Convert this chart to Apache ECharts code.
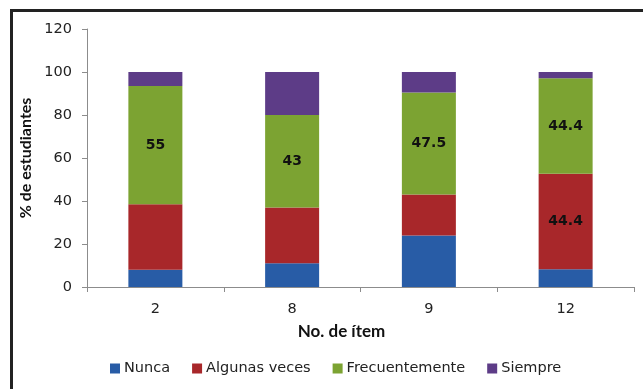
<!DOCTYPE html>
<html>
<head>
<meta charset="utf-8">
<script src="https://cdn.jsdelivr.net/npm/echarts@6/dist/echarts.min.js"></script>
<style>
  html, body { margin: 0; padding: 0; background: #ffffff; }
  #chart { width: 643px; height: 389px; }
</style>
</head>
<body>
<div id="chart"></div>
<script>
// Items and answer shares (% of students) per frequency category
const items = ['2', '8', '9', '12'];
const nunca = [8, 11, 24, 8.3];
const algunasVeces = [30.5, 26, 19, 44.4];
const frecuentemente = [55, 43, 47.5, 44.4];
const siempre = [6.5, 20, 9.5, 2.9];
const yTicks = [0, 20, 40, 60, 80, 100, 120];

// Segments whose value is printed inside the bar: [series name, item index]
const printedValues = [
  ['Frecuentemente', 0], ['Frecuentemente', 1], ['Frecuentemente', 2], ['Frecuentemente', 3],
  ['Algunas veces', 3]
];

const font = '"DejaVu Sans", "Open Sans", sans-serif';
const nameFont = 'Lato, "Open Sans", sans-serif';
const colors = {
  'Nunca': '#285ca6',
  'Algunas veces': '#a8272a',
  'Frecuentemente': '#7ca332',
  'Siempre': '#5d3c87'
};

function makeSeries(name, values) {
  return {
    name: name,
    type: 'bar',
    stack: 'total',
    barWidth: 54,
    itemStyle: { color: colors[name] },
    data: values.map(function (v, i) {
      const shown = printedValues.some(function (p) { return p[0] === name && p[1] === i; });
      return {
        value: v,
        label: {
          show: shown,
          position: 'inside',
          formatter: String(v),
          color: '#111',
          fontWeight: 'bold',
          fontSize: 14,
          fontFamily: font
        }
      };
    })
  };
}

const chart = echarts.init(document.getElementById('chart'), null, { renderer: 'canvas' });
chart.setOption({
  animation: false,
  backgroundColor: '#ffffff',
  textStyle: { fontFamily: font },
  graphic: [{
    type: 'rect',
    left: 9, top: 8,
    shape: { x: 0, y: 0, width: 700, height: 500 },
    style: { fill: 'none', stroke: '#222', lineWidth: 3 },
    silent: true
  }],
  grid: { left: 87, right: 9, top: 29, bottom: 102, containLabel: false },
  legend: {
    data: ['Nunca', 'Algunas veces', 'Frecuentemente', 'Siempre'],
    left: 110, top: 361,
    padding: 0,
    icon: 'rect',
    itemWidth: 10, itemHeight: 10, itemGap: 22,
    textStyle: { fontSize: 14.5, color: '#222', fontFamily: font, padding: [0, 0, 0, -1] }
  },
  xAxis: {
    type: 'category',
    data: items,
    name: 'No. de ítem',
    nameLocation: 'middle',
    nameGap: 36,
    nameTextStyle: { fontWeight: 'bold', fontSize: 17, color: '#111', padding: [0, 38, 0, 0], fontFamily: nameFont },
    axisLine: { lineStyle: { color: '#8c8c8c', width: 1 } },
    axisTick: { show: true, length: 5, lineStyle: { color: '#8c8c8c' } },
    axisLabel: { fontSize: 14.5, color: '#222', margin: 15, fontFamily: font }
  },
  yAxis: {
    type: 'value',
    min: yTicks[0],
    max: yTicks[yTicks.length - 1],
    interval: yTicks[1] - yTicks[0],
    name: '% de estudiantes',
    nameLocation: 'middle',
    nameRotate: 90,
    nameGap: 45,
    nameTextStyle: { fontWeight: 'bold', fontSize: 16, color: '#111', fontFamily: nameFont },
    axisLine: { show: true, lineStyle: { color: '#8c8c8c', width: 1 } },
    axisTick: { show: true, length: 5, lineStyle: { color: '#8c8c8c' } },
    axisLabel: { fontSize: 14.5, color: '#222', margin: 15, fontFamily: font },
    splitLine: { show: false }
  },
  series: [
    makeSeries('Nunca', nunca),
    makeSeries('Algunas veces', algunasVeces),
    makeSeries('Frecuentemente', frecuentemente),
    makeSeries('Siempre', siempre)
  ]
});
</script>
</body>
</html>
